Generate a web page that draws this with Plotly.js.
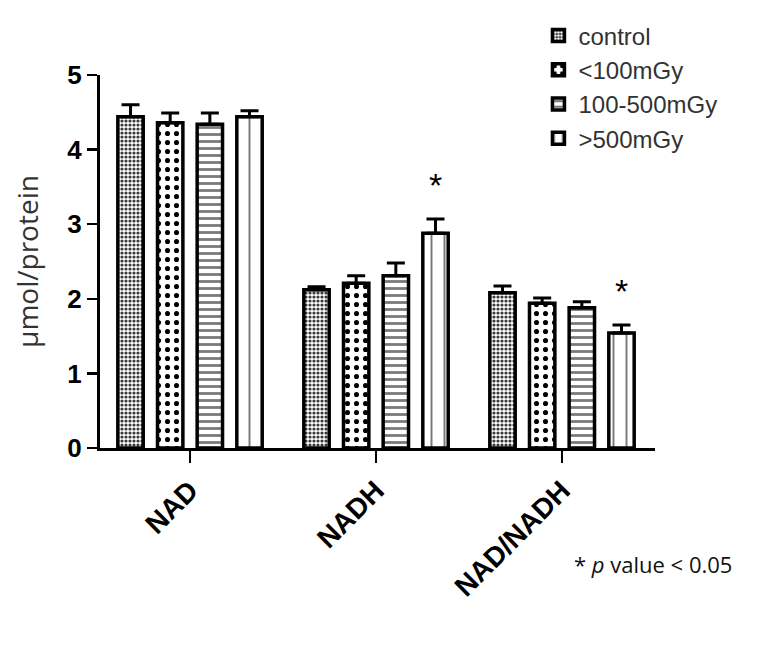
<!DOCTYPE html>
<html>
<head>
<meta charset="utf-8">
<script src="https://cdn.plot.ly/plotly-3.0.1.min.js"></script>
<style>html,body{margin:0;padding:0;background:#fff;}#chart{width:758px;height:652px;}</style>
</head>
<body>
<div id="chart"></div>
<script>
const categories = ["NAD", "NADH", "NAD/NADH"];
const seriesNames = ["control", "<100mGy", "100-500mGy", ">500mGy"];
const controlVals = [4.44, 2.12, 2.08];
const low100Vals = [4.36, 2.21, 1.94];
const mid500Vals = [4.34, 2.31, 1.88];
const high500Vals = [4.44, 2.88, 1.54];
const controlErr = [0.16, 0.04, 0.09];
const low100Err = [0.13, 0.10, 0.07];
const mid500Err = [0.15, 0.17, 0.08];
const high500Err = [0.08, 0.19, 0.11];
const yTicks = [0, 1, 2, 3, 4, 5];
const significant = [false, true, true]; // for >500mGy series

const bargap = 0.147;
const patterns = [
  {shape: ".", size: 4, solidity: 0.5, fgcolor: "#3a3a3a", bgcolor: "#ffffff"},
  {shape: ".", size: 9, solidity: 0.25, fgcolor: "#000000", bgcolor: "#ffffff"},
  {shape: "-", size: 7, solidity: 0.4, fgcolor: "#7a7a7a", bgcolor: "#ffffff"},
  {shape: "|", size: 13, solidity: 0.15, fgcolor: "#7a7a7a", bgcolor: "#ffffff"}
];
const vals = [controlVals, low100Vals, mid500Vals, high500Vals];
const errs = [controlErr, low100Err, mid500Err, high500Err];

const traces = seriesNames.map((name, i) => ({
  type: "bar",
  name: name,
  x: categories,
  y: vals[i],
  legendgroup: "g" + i,
  marker: {color: "#ffffff", line: {color: "#000000", width: 3.5}, pattern: patterns[i]},
  error_y: {type: "data", symmetric: false, array: errs[i], arrayminus: errs[i].map(() => 0),
            color: "#000000", thickness: 3, width: 9}
}));

const offset4 = (1 - bargap) * (3.5 / 4 - 0.5);
const annotations = [];
categories.forEach((c, k) => {
  if (significant[k]) {
    annotations.push({
      x: k + offset4, y: high500Vals[k] + high500Err[k], xref: "x", yref: "y",
      text: "*", showarrow: false, yanchor: "bottom", yshift: 13,
      font: {family: "Liberation Sans, Arial, sans-serif", size: 34, color: "#000"}
    });
  }
});
annotations.push({
  xref: "paper", yref: "paper", x: 1.142, y: -0.31, xanchor: "right", yanchor: "middle",
  text: "* <i>p</i> value < 0.05", showarrow: false,
  font: {family: "Open Sans, sans-serif", size: 22, color: "#111"}
});

const layout = {
  width: 758, height: 652,
  margin: {l: 100, r: 103, t: 75, b: 204},
  paper_bgcolor: "#fff", plot_bgcolor: "#fff",
  barmode: "group", bargap: bargap, bargroupgap: 0.36,
  showlegend: true,
  legend: {x: 0.79, y: 1.165, xanchor: "left", yanchor: "top", tracegroupgap: 0,
           font: {family: "Liberation Sans, Arial, sans-serif", size: 24, color: "#333"},
           bgcolor: "rgba(0,0,0,0)"},
  xaxis: {type: "category", range: [-0.484, 2.5], showline: true, linewidth: 3, linecolor: "#000",
          ticks: "outside", ticklen: 12, tickwidth: 2.5, tickcolor: "#000", tickangle: -45,
          showgrid: false, zeroline: false,
          tickfont: {family: "Liberation Sans, Arial, sans-serif", size: 28, color: "#000", weight: "bold"}},
  yaxis: {range: [0, 5], tickvals: yTicks, showline: true, linewidth: 3, linecolor: "#000",
          ticks: "outside", ticklen: 10, tickwidth: 2.5, tickcolor: "#000",
          showgrid: false, zeroline: false,
          tickfont: {family: "Liberation Sans, Arial, sans-serif", size: 26, color: "#000", weight: "bold"},
          title: {text: "μmol/protein", standoff: 21,
                  font: {family: "Open Sans, sans-serif", size: 28, color: "#333"}}},
  annotations: annotations
};

Plotly.newPlot("chart", traces, layout, {displayModeBar: false, staticPlot: true});
</script>
</body>
</html>
